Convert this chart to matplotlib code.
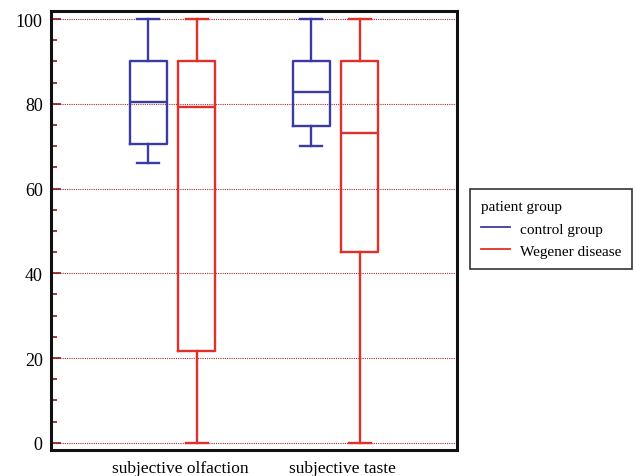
import matplotlib.pyplot as plt
from matplotlib.lines import Line2D
from matplotlib.ticker import MultipleLocator

plt.rcParams['font.family'] = ['Liberation Serif', 'DejaVu Serif']

categories = ['subjective olfaction', 'subjective taste']
groups = ['control group', 'Wegener disease']
colors = ['#3b3ba3', '#e0302a']

# five-number summaries per category: (low whisker, Q1, median, Q3, high whisker)
control = [(66.0, 70.4, 80.5, 90.0, 100.0), (70.1, 74.7, 82.7, 90.0, 100.0)]
wegener = [(0.0, 21.6, 79.2, 90.0, 100.0), (0.0, 45.1, 73.0, 90.0, 100.0)]

fig = plt.figure(figsize=(6.35, 4.77), dpi=100)
ax = fig.add_axes([0.0803, 0.0545, 0.6394, 0.9203])

offset = 0.15
for gi, (series, col) in enumerate(zip([control, wegener], colors)):
    stats = []
    for lo, q1, med, q3, hi in series:
        stats.append(dict(whislo=lo, q1=q1, med=med, q3=q3, whishi=hi, fliers=[]))
    pos = [i + 1 + (offset if gi else -offset) for i in range(len(categories))]
    lp = dict(color=col, linewidth=1.7)
    ax.bxp(stats, positions=pos, widths=0.227, capwidths=0.13,
           showfliers=False, boxprops=lp, whiskerprops=lp, capprops=lp,
           medianprops=lp, manage_ticks=False, zorder=3)

ax.set_xlim(0.255, 2.745)
ax.set_ylim(-1.7, 101.9)
ax.set_xticks([1.05, 2.04])
ax.set_xticklabels(categories, fontsize=12.5)
ax.tick_params(axis='x', length=0, pad=7)

ax.yaxis.set_major_locator(MultipleLocator(20))
ax.yaxis.set_minor_locator(MultipleLocator(5))
ax.tick_params(axis='y', which='major', direction='in', length=7, width=1.2,
               color='#8b1a1a', labelsize=13, pad=6)
ax.tick_params(axis='y', which='minor', direction='in', length=4, width=1.2,
               color='#8b1a1a')
ax.grid(axis='y', which='major', color='#a83030', linestyle=(0, (1, 1)),
        linewidth=0.8, zorder=1)

for sp in ax.spines.values():
    sp.set_linewidth(2.2)
    sp.set_color('#111111')

handles = [Line2D([], [], color=c, linewidth=1.3) for c in colors]
leg = fig.legend(handles, groups, title='patient group', loc='upper left',
                 bbox_to_anchor=(0.740, 0.6017), fontsize=11, title_fontsize=11,
                 frameon=True, fancybox=False, handlelength=1.9,
                 handletextpad=0.6, borderpad=0.75, labelspacing=0.55,
                 borderaxespad=0)
leg._legend_box.align = 'left'
leg.get_frame().set_edgecolor('black')
leg.get_frame().set_linewidth(1.2)

fig.savefig('out.png', dpi=100)
